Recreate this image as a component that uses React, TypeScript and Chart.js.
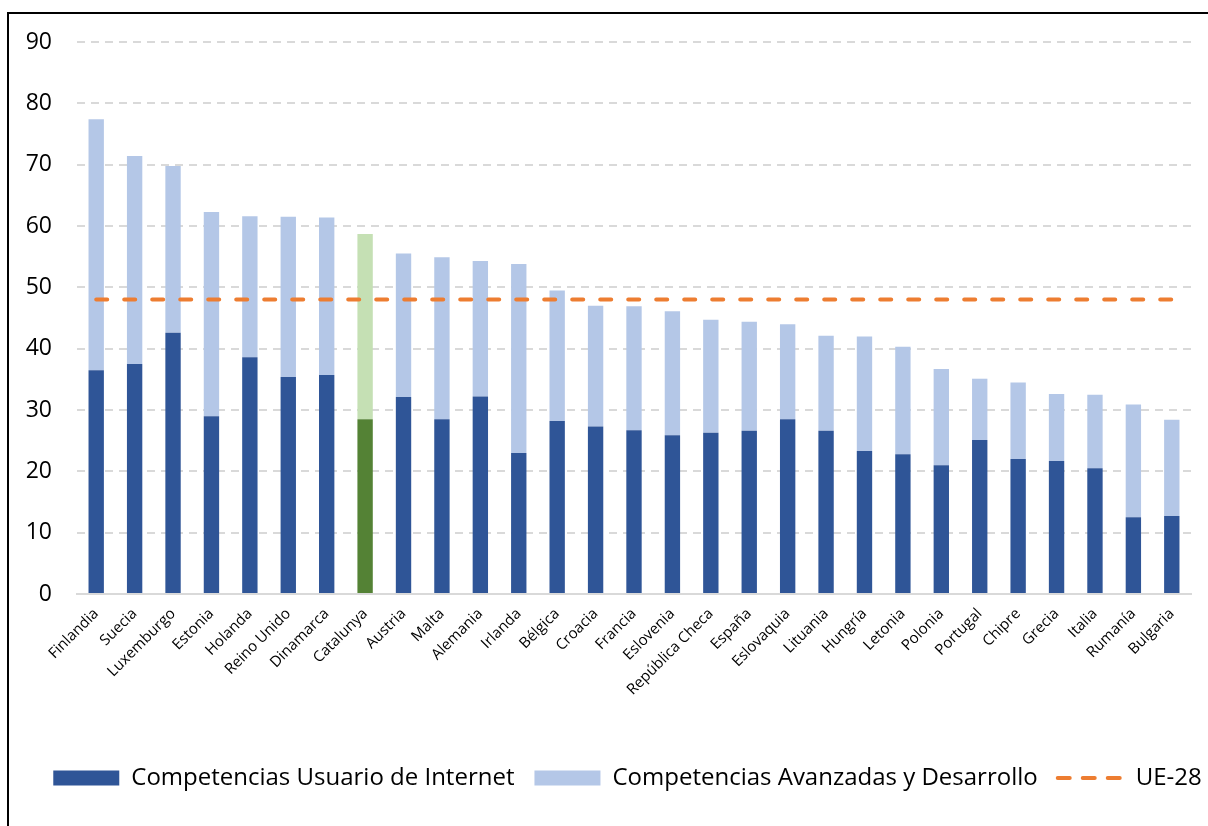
import { useEffect, useRef } from 'react';
import { Chart, registerables } from 'chart.js';

Chart.register(...registerables);

const categories = [
  'Finlandia', 'Suecia', 'Luxemburgo', 'Estonia', 'Holanda', 'Reino Unido', 'Dinamarca',
  'Catalunya', 'Austria', 'Malta', 'Alemania', 'Irlanda', 'Bélgica', 'Croacia', 'Francia',
  'Eslovenia', 'República Checa', 'España', 'Eslovaquia', 'Lituania', 'Hungría', 'Letonia',
  'Polonia', 'Portugal', 'Chipre', 'Grecia', 'Italia', 'Rumanía', 'Bulgaria',
];

const usuarioInternet = [
  36.5, 37.5, 42.6, 29.0, 38.6, 35.4, 35.7, 28.5, 32.1, 28.5, 32.2, 23.0, 28.2, 27.3, 26.7,
  25.9, 26.3, 26.6, 28.5, 26.6, 23.3, 22.8, 21.0, 25.1, 22.0, 21.7, 20.5, 12.5, 12.7,
];

const avanzadasDesarrollo = [
  40.9, 33.9, 27.2, 33.3, 23.0, 26.1, 25.7, 30.2, 23.4, 26.4, 22.1, 30.8, 21.3, 19.7, 20.2,
  20.2, 18.4, 17.8, 15.5, 15.5, 18.7, 17.5, 15.7, 10.0, 12.5, 10.9, 12.0, 18.4, 15.7,
];

const ue28 = [
  48, 48, 48, 48, 48, 48, 48, 48, 48, 48, 48, 48, 48, 48, 48,
  48, 48, 48, 48, 48, 48, 48, 48, 48, 48, 48, 48, 48, 48,
];

const yTickValues = [0, 10, 20, 30, 40, 50, 60, 70, 80, 90];

const seriesNames = ['Competencias Usuario de Internet', 'Competencias Avanzadas y Desarrollo', 'UE-28'];

const HIGHLIGHT = 'Catalunya';
const DARK_BLUE = '#2F5597';
const LIGHT_BLUE = '#B4C7E7';
const DARK_GREEN = '#548235';
const LIGHT_GREEN = '#C5E0B4';
const ORANGE = '#ED7D31';
const FONT = "'Open Sans', 'DejaVu Sans', sans-serif";

const shiftLegend = {
  id: 'shiftLegend',
  afterLayout(chart: any) {
    const l = chart.legend;
    if (l) {
      l.left += 32;
      l.right += 32;
    }
  },
};

export default function App() {
  const ref = useRef<HTMLCanvasElement>(null);

  useEffect(() => {
    const canvas = ref.current;
    if (!canvas) return;
    const chart = new Chart(canvas, {
      type: 'bar',
      plugins: [shiftLegend],
      data: {
        labels: categories,
        datasets: [
          {
            label: seriesNames[0],
            data: usuarioInternet,
            backgroundColor: (c: any) => (categories[c.dataIndex] === HIGHLIGHT ? DARK_GREEN : DARK_BLUE),
            stack: 'bars',
            order: 1,
            barPercentage: 0.5,
            categoryPercentage: 0.8,
            borderWidth: 0,
          },
          {
            label: seriesNames[1],
            data: avanzadasDesarrollo,
            backgroundColor: (c: any) => (categories[c.dataIndex] === HIGHLIGHT ? LIGHT_GREEN : LIGHT_BLUE),
            stack: 'bars',
            order: 1,
            barPercentage: 0.5,
            categoryPercentage: 0.8,
            borderWidth: 0,
          },
          {
            type: 'line',
            label: seriesNames[2],
            data: ue28,
            borderColor: ORANGE,
            backgroundColor: ORANGE,
            borderWidth: 4,
            borderDash: [11, 17],
            borderCapStyle: 'round',
            pointRadius: 0,
            pointHoverRadius: 0,
            fill: false,
            tension: 0,
            stack: 'ue',
            order: 0,
          } as any,
        ],
      },
      options: {
        responsive: false,
        animation: false,
        events: [],
        layout: { padding: { left: 0, right: 17, top: 42, bottom: 26 } },
        plugins: {
          tooltip: { enabled: false },
          legend: {
            position: 'bottom',
            labels: {
              usePointStyle: true,
              pointStyleWidth: 66,
              boxHeight: 15,
              padding: 20,
              color: '#000',
              font: { family: FONT, size: 24 },
              generateLabels: () => [
                { text: seriesNames[0], fillStyle: DARK_BLUE, strokeStyle: DARK_BLUE, lineWidth: 0, pointStyle: 'rect', hidden: false, datasetIndex: 0 },
                { text: seriesNames[1], fillStyle: LIGHT_BLUE, strokeStyle: LIGHT_BLUE, lineWidth: 0, pointStyle: 'rect', hidden: false, datasetIndex: 1 },
                { text: seriesNames[2], fillStyle: ORANGE, strokeStyle: ORANGE, lineWidth: 4, lineDash: [12, 13], lineCap: 'round', pointStyle: 'line', hidden: false, datasetIndex: 2 },
              ] as any,
            },
          },
        },
        scales: {
          x: {
            stacked: true,
            grid: { display: false },
            border: { display: true, color: '#D9D9D9', width: 2 },
            ticks: {
              color: '#000',
              font: { family: FONT, size: 15 },
              minRotation: 45,
              maxRotation: 45,
              autoSkip: false,
              padding: 3,
            },
            afterFit: (s: any) => {
              s.height = 152;
            },
          },
          y: {
            stacked: true,
            min: 0,
            max: 90,
            afterBuildTicks: (s: any) => {
              s.ticks = yTickValues.map((v) => ({ value: v }));
            },
            ticks: {
              padding: 25,
              color: '#000',
              font: { family: FONT, size: 23 },
            },
            grid: {
              color: (c: any) => (c.tick && c.tick.value === 0 ? 'rgba(0,0,0,0)' : '#D9D9D9'),
              lineWidth: 2,
              drawTicks: false,
            },
            border: { display: false, dash: [8, 6] },
            afterFit: (s: any) => {
              s.width = 77;
            },
          },
        },
      },
    });
    return () => chart.destroy();
  }, []);

  return (
    <div>
      <div style={{ position: 'fixed', left: 0, top: 0, width: 1208, height: 826, background: '#fff' }}>
        <canvas ref={ref} width={1208} height={826} style={{ display: 'block', width: 1208, height: 826 }} />
      </div>
      <div
        style={{
          position: 'fixed',
          left: 7,
          top: 12,
          width: 1230,
          height: 840,
          border: '2px solid #000',
          pointerEvents: 'none',
        }}
      />
    </div>
  );
}
